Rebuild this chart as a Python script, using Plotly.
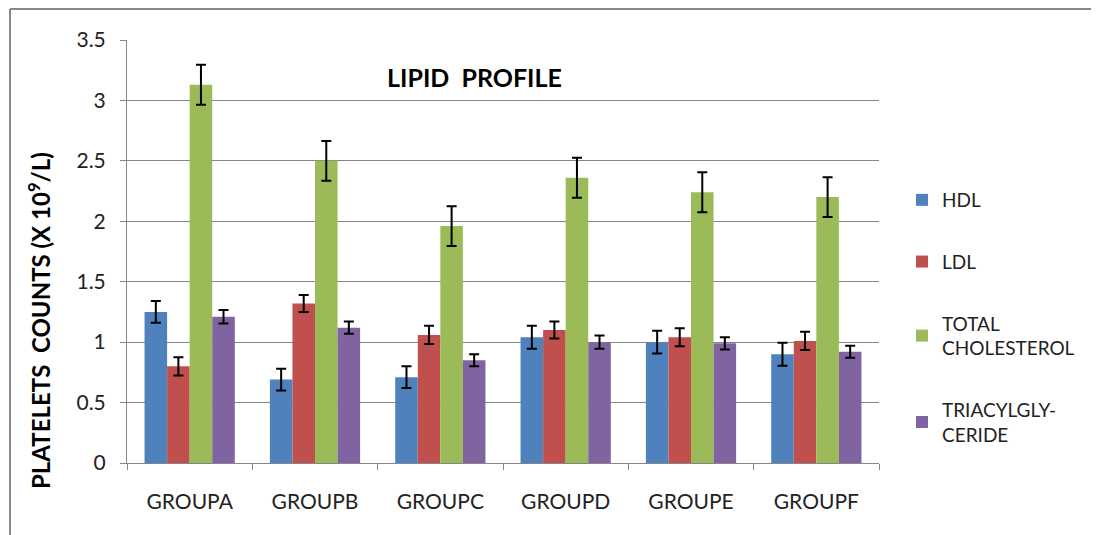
import plotly.graph_objects as go

groups = ["GROUPA", "GROUPB", "GROUPC", "GROUPD", "GROUPE", "GROUPF"]
hdl = [1.25, 0.69, 0.71, 1.04, 1.00, 0.90]
hdl_err = [0.09, 0.09, 0.09, 0.095, 0.095, 0.095]
ldl = [0.80, 1.32, 1.06, 1.10, 1.04, 1.01]
ldl_err = [0.075, 0.07, 0.075, 0.07, 0.075, 0.075]
tc = [3.13, 2.50, 1.96, 2.36, 2.24, 2.20]
tc_err = [0.165, 0.165, 0.165, 0.165, 0.165, 0.165]
tg = [1.21, 1.12, 0.85, 1.00, 0.99, 0.92]
tg_err = [0.055, 0.05, 0.05, 0.055, 0.05, 0.05]

series = [
    ("HDL", hdl, hdl_err, "#4F81BD"),
    ("LDL", ldl, ldl_err, "#C0504D"),
    ("TOTAL<br>CHOLESTEROL", tc, tc_err, "#9BBB59"),
    ("TRIACYLGLY-<br>CERIDE", tg, tg_err, "#8064A2"),
]

FONT = "Lato"
fig = go.Figure()
for i, (name, vals, errs, col) in enumerate(series):
    fig.add_trace(go.Bar(
        x=groups, y=vals, name=name, legendgroup=str(i),
        marker=dict(color=col, line=dict(width=0)),
        error_y=dict(type="data", array=errs, visible=True,
                     color="black", thickness=2, width=5),
    ))

OFF = 8  # page body margin
L, R, T, B = 127 - OFF, 879 - OFF, 40 - OFF, 463 - OFF
W, H = 1099 - OFF, 535 - OFF

def px(x):
    return (x - OFF - L) / (R - L)

def py(y):
    return (B - (y - OFF)) / (B - T)

fig.update_layout(
    width=W, height=H,
    margin=dict(l=L, r=W - R, t=T, b=H - B),
    paper_bgcolor="white", plot_bgcolor="white",
    barmode="group", bargap=0.28, bargroupgap=0,
    font=dict(family=FONT, size=20, color="#222222"),
    showlegend=True,
    legend=dict(x=px(902), y=py(181), xanchor="left", yanchor="top",
                tracegroupgap=34, font=dict(size=19, family=FONT, color="#222222"),
                bgcolor="rgba(0,0,0,0)"),
    xaxis=dict(
        showgrid=False, showline=True, linecolor="#868686", linewidth=1,
        ticks="outside", tickson="boundaries", ticklen=6, tickcolor="#868686",
        ticklabelstandoff=20, tickfont=dict(size=21, family=FONT, color="#222222"),
    ),
    yaxis=dict(
        range=[0, 3.5], dtick=0.5, showgrid=True, gridcolor="#868686", gridwidth=1,
        showline=True, linecolor="#868686", linewidth=1,
        ticks="outside", ticklen=6, tickcolor="#868686",
        ticklabelstandoff=10, tickfont=dict(size=21, family=FONT, color="#222222"),
        zeroline=False,
    ),
    annotations=[
        dict(text="<b>LIPID  PROFILE</b>", x=px(474), y=py(77), xref="paper", yref="paper",
             xanchor="center", yanchor="middle",
             showarrow=False, font=dict(size=25, family=FONT, color="black")),
        dict(text="<b>PLATELETS  COUNTS (X 10<sup>9</sup>/L)</b>", x=px(39), y=py(321),
             xref="paper", yref="paper", xanchor="center", yanchor="middle",
             showarrow=False, textangle=-90,
             font=dict(size=24, family=FONT, color="black")),
    ],
    shapes=[
        dict(type="line", xref="paper", yref="paper", x0=px(10), x1=px(1099),
             y0=py(9), y1=py(9), line=dict(color="#888888", width=2)),
        dict(type="line", xref="paper", yref="paper", x0=px(10), x1=px(10),
             y0=py(9), y1=py(535), line=dict(color="#888888", width=2)),
    ],
)

fig.write_html("out.html")
